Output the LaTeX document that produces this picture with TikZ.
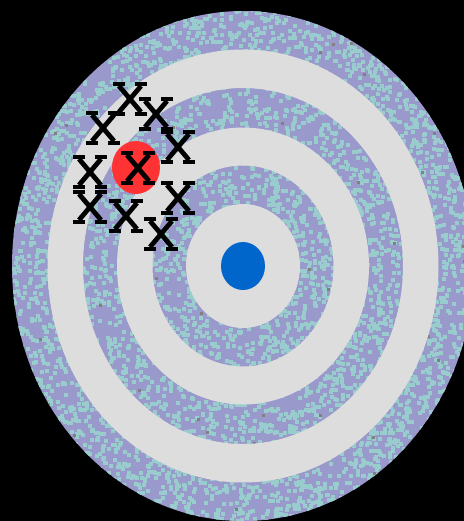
\documentclass[tikz,border=0pt]{standalone}
\usepackage{xcolor}
\usepackage{tikz}
\definecolor{tgLavender}{RGB}{153,153,204}
\definecolor{tgTeal}{RGB}{153,204,204}
\definecolor{tgGrey}{RGB}{128,128,128}
\definecolor{tgLight}{RGB}{221,221,221}
\definecolor{tgRed}{RGB}{255,51,51}
\definecolor{tgBlue}{RGB}{0,102,204}
\tikzset{
  ringband/.style={fill=tgLavender},
  ringgap/.style={fill=tgLight, even odd rule},
  speck/.style={fill=tgTeal},
  darkspeck/.style={fill=tgGrey},
  xmark/.style={draw=black, line width=2.4pt, line cap=butt},
}

\begin{document}
\begin{tikzpicture}[x=0.5pt, y=-0.5pt]

% =================================================================
% frame -- black background, 464 x 521 px
% =================================================================
\fill[black] (0,0) rectangle (464,521);
\clip (0,0) rectangle (464,521);

% =================================================================
% target -- outer band with speckle texture
% =================================================================
\coordinate (bull) at (243,266);
\fill[ringband] (bull) ellipse [x radius=231, y radius=255];

\begin{scope}
  \clip (bull) ellipse [x radius=231, y radius=255];
  \pgfmathsetseed{4711}
  \foreach \k in {1,...,6500}
    \fill[speck] (10+456*rnd, 8+513*rnd) rectangle ++(4,4);
  \foreach \k in {1,...,70}
    \fill[darkspeck] (10+456*rnd, 8+513*rnd) rectangle ++(3,3);
\end{scope}

% light rings cut out of the band
\fill[ringgap] (bull) ellipse [x radius=195.5, y radius=216.5]
                (bull) ellipse [x radius=160,   y radius=178];
\fill[ringgap] (bull) ellipse [x radius=126,   y radius=138.5]
                (bull) ellipse [x radius=90.5,  y radius=100.5];
\fill[tgLight] (bull) ellipse [x radius=57, y radius=62];

% bull's eye
\fill[tgBlue] (bull) ellipse [x radius=22, y radius=24];

% =================================================================
% shots -- mean point and the cluster of crosses
% =================================================================
\coordinate (mean) at (136,167.5);
\fill[tgRed] (mean) ellipse [x radius=24, y radius=26.5];

\foreach \cx/\cy in {130/99, 156/114, 103/128, 178/147, 138/168,
                     90/172, 90/207, 178/198, 126/216, 161/234} {
  \draw[xmark] (\cx-11,\cy-13) -- (\cx+11,\cy+13)
               (\cx+11,\cy-13) -- (\cx-11,\cy+13);
  \draw[xmark] (\cx-17,\cy-15) -- (\cx-5,\cy-15)
               (\cx+5,\cy-15)  -- (\cx+17,\cy-15)
               (\cx-17,\cy+15) -- (\cx-5,\cy+15)
               (\cx+5,\cy+15)  -- (\cx+17,\cy+15);
}

\end{tikzpicture}
\end{document}
